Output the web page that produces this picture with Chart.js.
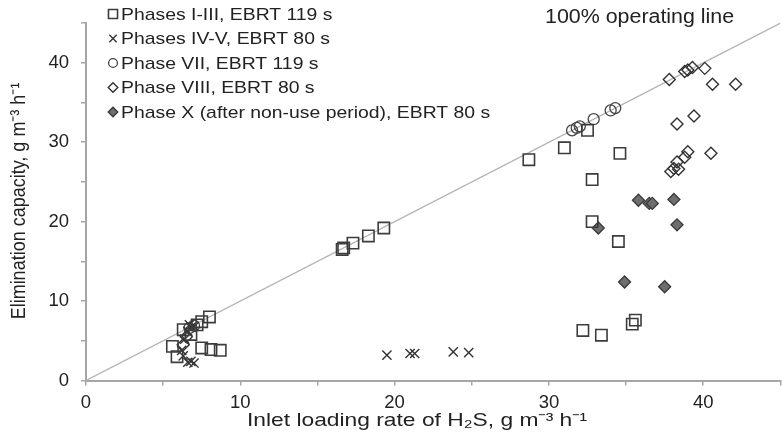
<!DOCTYPE html>
<html>
<head>
<meta charset="utf-8">
<script src="https://cdn.jsdelivr.net/npm/chart.js@4.4.1/dist/chart.umd.min.js"></script>
<style>
  html, body { margin: 0; padding: 0; background: #fff; overflow: hidden; }
  #wrap { width: 790px; height: 440px; }
</style>
</head>
<body>
<div id="wrap"><canvas id="chartCanvas" width="790" height="440"></canvas></div>
<script>
// values: [inlet loading rate, elimination capacity]
const phasesI_III = [
  [5.6, 4.3], [5.9, 3.0], [6.3, 6.4], [6.8, 5.8], [7.2, 7.0], [7.5, 7.4], [8.0, 8.0],
  [7.5, 4.1], [8.1, 3.9], [8.7, 3.8],
  [16.6, 16.5], [16.7, 16.7], [17.3, 17.3], [18.3, 18.2], [19.3, 19.2],
  [28.7, 27.8], [31.0, 29.3], [32.5, 31.5], [34.6, 28.6], [32.8, 25.3],
  [32.8, 20.0], [34.5, 17.5], [32.2, 6.3], [33.4, 5.7], [35.4, 7.1], [35.6, 7.6]
];
const phasesIV_V = [
  [6.2, 3.8], [6.3, 3.1], [6.4, 5.2], [6.6, 6.2], [6.8, 6.7], [6.7, 7.0], [7.0, 6.8],
  [6.6, 2.3], [6.8, 2.4], [7.0, 2.2],
  [19.5, 3.2], [21.0, 3.4], [21.3, 3.4], [23.8, 3.6], [24.8, 3.5]
];
const phaseVII = [
  [6.7, 6.6], [7.0, 6.9],
  [31.5, 31.5], [31.8, 31.8], [32.0, 32.0], [32.9, 32.9], [34.0, 34.0], [34.3, 34.3]
];
const phaseVIII = [
  [6.3, 4.5], [6.5, 5.5],
  [37.8, 37.9], [38.8, 38.9], [39.0, 39.1], [39.3, 39.4], [40.1, 39.3], [40.6, 37.3],
  [42.1, 37.3], [38.3, 32.3], [39.4, 33.3], [39.0, 28.8], [40.5, 28.6], [38.8, 28.1],
  [38.3, 27.5], [38.1, 26.7], [37.9, 26.3], [38.4, 26.6]
];
const phaseX = [
  [35.8, 22.7], [36.5, 22.3], [36.7, 22.3], [38.1, 22.8], [38.3, 19.6],
  [33.2, 19.2], [34.9, 12.4], [37.5, 11.8]
];
const operatingLine = [[0, 0], [45, 45]];

const seriesNames = [
  'Phases I-III, EBRT 119 s',
  'Phases IV-V, EBRT 80 s',
  'Phase VII, EBRT 119 s',
  'Phase VIII, EBRT 80 s',
  'Phase X (after non-use period), EBRT 80 s'
];
const xTitle = 'Inlet loading rate of H\u2082S, g m\u207B\u00B3 h\u207B\u00B9';
const yTitle = 'Elimination capacity, g m\u207B\u00B3 h\u207B\u00B9';
const lineLabel = '100% operating line';

const FONT = '"Liberation Sans", Arial, sans-serif';
const AXIS = '#a6a6a6';
const STRETCH = 1.14; // the source figure is a bit wider than tall

function pts(arr) {
  return arr.map(p => ({ x: p[0], y: p[1] }));
}

function series(label, arr, style, radius, fill, stroke, width) {
  return {
    label: label,
    data: pts(arr),
    pointStyle: style,
    pointRadius: radius,
    pointHoverRadius: radius,
    pointBackgroundColor: fill,
    pointBorderColor: stroke,
    pointBorderWidth: width,
    showLine: false,
    order: 1
  };
}

const datasets = [
  series(seriesNames[0], phasesI_III, 'rect', 8, 'rgba(0,0,0,0)', '#3c3c3c', 1.6),
  series(seriesNames[1], phasesIV_V, 'crossRot', 6.5, 'rgba(0,0,0,0)', '#333', 1.4),
  series(seriesNames[2], phaseVII, 'circle', 5.5, 'rgba(0,0,0,0)', '#444', 1.3),
  series(seriesNames[3], phaseVIII, 'rectRot', 6, 'rgba(0,0,0,0)', '#333', 1.4),
  series(seriesNames[4], phaseX, 'rectRot', 6, '#6e6e6e', '#3a3a3a', 1.3),
  {
    label: lineLabel,
    data: pts(operatingLine),
    showLine: true,
    borderColor: '#b4b4b4',
    borderWidth: 1.3,
    pointRadius: 0,
    order: 10
  }
];

// text drawn a little wider than normal, like in the source figure
function wideText(ctx, text, x, y, sx, align) {
  ctx.save();
  ctx.translate(x, y);
  ctx.scale(sx, 1);
  ctx.textAlign = align;
  ctx.fillText(text, 0, 0);
  ctx.restore();
}

const decor = {
  id: 'decor',
  afterDraw(chart) {
    const ctx = chart.ctx;
    ctx.save();
    ctx.textBaseline = 'middle';
    // legend
    ctx.font = '17px ' + FONT;
    for (let i = 0; i < 5; i++) {
      const ds = chart.data.datasets[i];
      const y = 14 + i * 24.5;
      ctx.strokeStyle = ds.pointBorderColor;
      ctx.fillStyle = ds.pointBackgroundColor;
      ctx.lineWidth = ds.pointBorderWidth;
      Chart.helpers.drawPoint(ctx, {
        pointStyle: ds.pointStyle,
        radius: ds.pointRadius * 0.8,
        rotation: 0,
        borderWidth: ds.pointBorderWidth
      }, 113, y);
      ctx.fillStyle = '#222';
      wideText(ctx, ds.label, 121, y + 1, STRETCH, 'left');
    }
    // operating line label
    ctx.font = '20px ' + FONT;
    ctx.fillStyle = '#222';
    wideText(ctx, lineLabel, 545, 17, 1.07, 'left');
    // axis titles
    ctx.font = '19px ' + FONT;
    wideText(ctx, xTitle, 417, 421, 1.2, 'center');
    ctx.translate(19, 201);
    ctx.rotate(-Math.PI / 2);
    ctx.font = '18px ' + FONT;
    ctx.scale(1, 1.12);
    ctx.textAlign = 'center';
    ctx.fillText(yTitle, 0, 0);
    ctx.restore();
  }
};

const ctx = document.getElementById('chartCanvas').getContext('2d');
window.myChart = new Chart(ctx, {
  type: 'scatter',
  data: { datasets: datasets },
  options: {
    responsive: false,
    animation: false,
    layout: { padding: { top: 8, right: 2, left: 0, bottom: 0 } },
    plugins: {
      legend: { display: false },
      tooltip: { enabled: false }
    },
    scales: {
      x: {
        type: 'linear',
        min: 0,
        max: 45,
        afterFit(scale) { scale.height = 59.5; },
        border: { display: true, color: AXIS, width: 2 },
        grid: { drawOnChartArea: false, drawTicks: true, tickLength: 5, color: AXIS, lineWidth: 1.5 },
        ticks: {
          stepSize: 5,
          padding: 6,
          color: '#222',
          font: { family: FONT, size: 18.5 },
          maxRotation: 0,
          callback: v => (v % 10 === 0 ? v : '')
        }
      },
      y: {
        type: 'linear',
        min: 0,
        max: 45,
        afterFit(scale) { scale.width = 86; },
        border: { display: true, color: AXIS, width: 2 },
        grid: { drawOnChartArea: false, drawTicks: true, tickLength: 5, color: AXIS, lineWidth: 1.5 },
        ticks: {
          stepSize: 5,
          padding: 12,
          color: '#222',
          font: { family: FONT, size: 18.5 },
          callback: v => (v % 10 === 0 ? v : '')
        }
      }
    }
  },
  plugins: [decor]
});
</script>
</body>
</html>
